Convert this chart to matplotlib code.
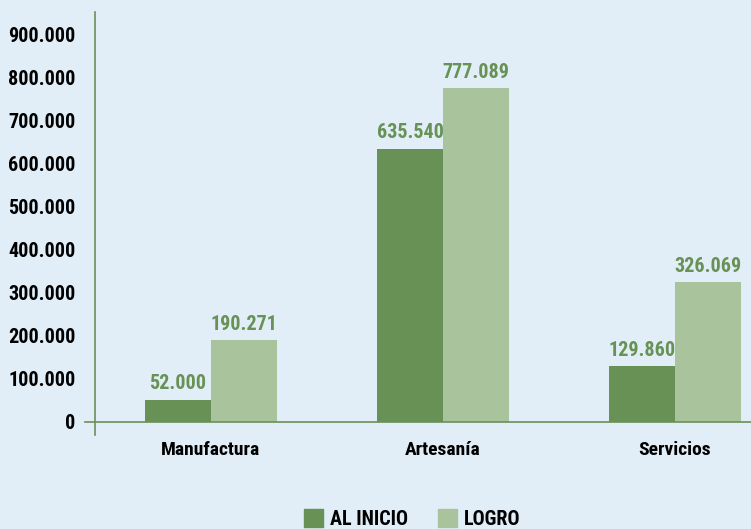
import matplotlib.pyplot as plt
import numpy as np
from matplotlib.patches import Patch

categorias = ['Manufactura', 'Artesanía', 'Servicios']
al_inicio = [52000, 635540, 129860]
logro = [190271, 777089, 326069]
series_labels = ['AL INICIO', 'LOGRO']
yticks = [0, 100000, 200000, 300000, 400000, 500000, 600000, 700000, 800000, 900000]

bg = '#e1eef7'
dark = '#679155'
light = '#a9c39c'


def fmt(v):
    return f'{v:,.0f}'.replace(',', '.')


plt.rcParams['font.family'] = ['Roboto Condensed', 'DejaVu Sans']
plt.rcParams['font.weight'] = 'bold'

fig = plt.figure(figsize=(7.51, 5.29), dpi=100, facecolor=bg)
ax = fig.add_axes([95 / 751, 1 - 435 / 529, 656 / 751, 423 / 529])
ax.set_facecolor(bg)

x = np.arange(len(categorias))
w = 0.284
b1 = ax.bar(x - w / 2, al_inicio, w, color=dark, label=series_labels[0])
b2 = ax.bar(x + w / 2, logro, w, color=light, label=series_labels[1])

for bars, vals in ((b1, al_inicio), (b2, logro)):
    for r, v in zip(bars, vals):
        ax.annotate(fmt(v), (r.get_x() + r.get_width() / 2, v), xytext=(0, 4.5),
                    textcoords='offset points', ha='center', va='bottom',
                    color=dark, fontsize=14.5, fontweight='bold')

ax.set_xlim(-0.5, 2.328)
ax.set_ylim(-30233, 953488)
ax.set_yticks(yticks)
ax.set_yticklabels([fmt(v) for v in yticks], fontsize=14.5, fontweight='bold')
ax.set_xticks(x)
ax.set_xticklabels(categorias, fontsize=14, fontweight='bold')
ax.tick_params(axis='y', length=0, pad=14)
ax.tick_params(axis='x', length=0, pad=4.5)

for s in ('top', 'right', 'bottom'):
    ax.spines[s].set_visible(False)
ax.spines['left'].set_color('#6b8f5a')
ax.spines['left'].set_linewidth(1.2)
ax.axhline(0, xmin=-0.0152, xmax=1, color='#6b8f5a', lw=1.2, clip_on=False)

handles = [Patch(color=dark), Patch(color=light)]
fig.legend(handles, series_labels, loc='center', bbox_to_anchor=(0.549, 1 - 519 / 529),
           ncol=2, frameon=False, prop={'size': 14.5, 'weight': 'bold'},
           handlelength=0.95, handleheight=0.95, columnspacing=1.5, handletextpad=0.35)

fig.savefig('out.png', dpi=100, facecolor=bg)
